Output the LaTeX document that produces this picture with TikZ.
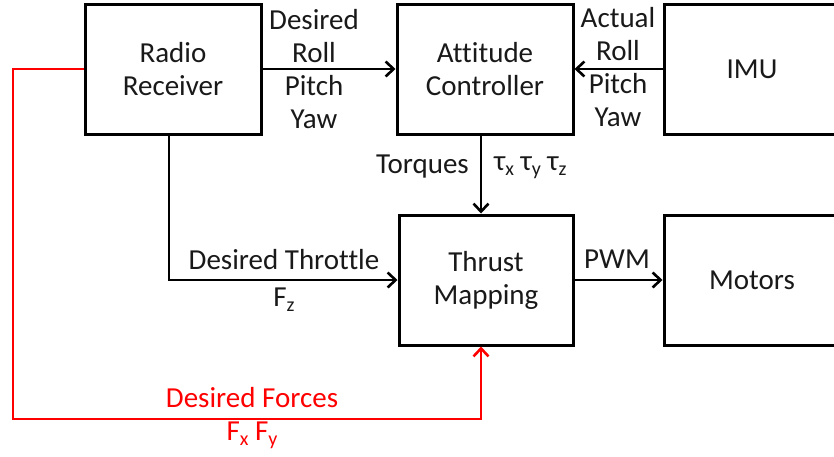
\documentclass[tikz,border=0pt]{standalone}
\usepackage{fontspec}
\setmainfont[Ligatures=NoCommon]{Carlito}
\usetikzlibrary{arrows.meta}
\newcommand\lowsub[1]{\raisebox{-0.35ex}{\fontsize{20}{20}\selectfont #1}}
\begin{document}
\begin{tikzpicture}[x=1pt,y=-1pt,
  every node/.style={font=\fontsize{29}{33}\selectfont, text=black!90, inner sep=0pt},
  block/.style={draw, line width=3pt, minimum width=176pt, minimum height=130pt, align=center},
  lbl/.style={align=center},
  conn/.style={line width=2.6pt, -{Straight Barb[length=8pt,width=15pt,line width=2.6pt]}},
  redconn/.style={conn, draw=red}]
\useasboundingbox (0,0) rectangle (834,456);
\clip (0,0) rectangle (834,456);

% blocks
\node[block] (radio)  at (173,69)  {Radio\\Receiver};
\node[block] (att)    at (485,69)  {Attitude\\Controller};
\node[block] (imu)    at (752,69)  {IMU};
\node[block, minimum width=174pt] (thrust) at (486,280) {Thrust\\Mapping};
\node[block] (motors) at (752,280) {Motors};

% connectors
\draw[conn] (radio.east) -- (att.west);
\draw[conn] (imu.west) -- (att.east);
\draw[conn] ([xshift=-4pt]att.south) -- ([xshift=-5pt]thrust.north);
\draw[conn] ([xshift=-4pt]radio.south) |- (thrust.west);
\draw[conn] (thrust.east) -- (motors.west);
\coordinate (redcorner) at (13,419);
\draw[redconn] (radio.west) -| (redcorner) -| ([xshift=-5pt]thrust.south);

% labels
\node[lbl] (desrpy) at (314,69) {Desired\\Roll\\Pitch\\Yaw};
\node[lbl] (actrpy) at (618,67) {Actual\\Roll\\Pitch\\Yaw};
\node[anchor=east] (torq) at (469,167) {Torques};
\node[anchor=west] (taus) at (494,168) {τ\lowsub{x} τ\lowsub{y} τ\lowsub{z}};
\node (thr) at (284,260) {Desired Throttle};
\node (fz) at (284,300) {F\lowsub{z}};
\node (pwm) at (617,259) {PWM};
\node[text=red] (forces) at (252,398) {Desired Forces};
\node[text=red] (fxy) at (252,435) {F\lowsub{x} F\lowsub{y}};
\end{tikzpicture}
\end{document}
